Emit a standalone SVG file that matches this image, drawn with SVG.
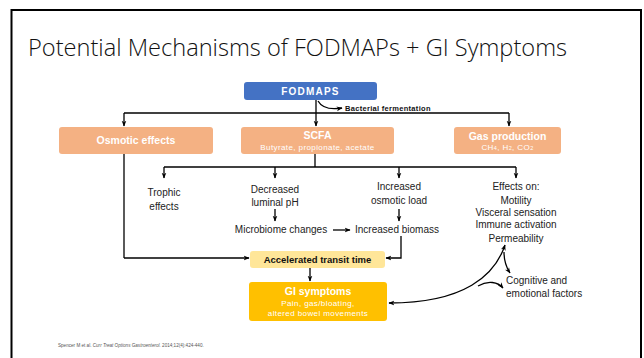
<svg xmlns="http://www.w3.org/2000/svg" width="644" height="358" viewBox="0 0 644 358">
<defs>
<marker id="ah" viewBox="0 0 10 10" refX="9" refY="5" markerWidth="6" markerHeight="6" orient="auto-start-reverse" markerUnits="userSpaceOnUse">
<path d="M0,1 L10,5 L0,9 L3,5 z" fill="#000"/>
</marker>
</defs>
<style>
.ln{fill:none;stroke:#000;stroke-width:1.3}
.arr{fill:none;stroke:#000;stroke-width:1.3;marker-end:url(#ah)}
.bx{font-family:"Liberation Sans",Arial,sans-serif;font-weight:bold;fill:#fff;text-anchor:middle}
.sub{font-family:"Liberation Sans",Arial,sans-serif;fill:#fff;text-anchor:middle;font-size:8px;letter-spacing:0.4px}
.t{font-family:"Liberation Sans",Arial,sans-serif;font-size:10px;fill:#222;text-anchor:middle}
.tl{font-family:"Liberation Sans",Arial,sans-serif;font-size:10px;fill:#222;text-anchor:start}
</style>
<rect width="644" height="358" fill="#fff"/>
<path d="M11.5 358 V10 H641 V358" fill="none" stroke="#000" stroke-width="2"/>
<text x="28" y="56" font-family="'Open Sans',sans-serif" font-weight="300" font-size="24" fill="#111" textLength="539" lengthAdjust="spacingAndGlyphs">Potential Mechanisms of FODMAPs + GI Symptoms</text>

<g id="connectors">
<path class="ln" d="M316 100 V113"/>
<path class="arr" d="M316 113 V126"/>
<path class="ln" d="M124 113 H509"/>
<path class="arr" d="M124 113 V126"/>
<path class="arr" d="M509 113 V126"/>
<path class="arr" d="M318 101 C322 108 330 110 342 108" stroke-width="1"/>
<path class="ln" d="M315 154 V167"/>
<path class="ln" d="M164 167 H516"/>
<path class="arr" d="M164 167 V178"/>
<path class="arr" d="M275 167 V178"/>
<path class="arr" d="M399 167 V178"/>
<path class="arr" d="M516 167 V178"/>
<path class="arr" d="M275 209 V221"/>
<path class="arr" d="M399 209 V221"/>
<path class="arr" d="M333 230 H350"/>
<path class="ln" d="M124 154 V258"/>
<path class="arr" d="M124 258 H249"/>
<path class="arr" d="M401 236 V258 H386"/>
<path class="arr" d="M310 268 V281"/>
<path class="arr" d="M505 245 C495 275 465 303 389 303" style="marker-start:url(#ah)"/>
<path class="arr" d="M478 286 C488 280 498 282 503 288"/>
<path class="arr" d="M504 252 C504 262 506 267 510 273"/>
</g>

<g id="fodmaps">
<rect x="244" y="82" width="133" height="18" rx="3" fill="#4472C4"/>
<text class="bx" x="310.5" y="95" font-size="10" letter-spacing="1.2">FODMAPS</text>
</g>
<g id="bacterial">
<text x="345" y="111" font-family="'Liberation Sans',Arial,sans-serif" font-weight="bold" font-size="7.5" fill="#111" letter-spacing="0.3">Bacterial fermentation</text>
</g>
<g id="osmotic">
<rect x="59" y="127" width="154" height="27" rx="3" fill="#F4B183"/>
<text class="bx" x="136" y="144" font-size="10.5">Osmotic effects</text>
</g>
<g id="scfa">
<rect x="241" y="127" width="153" height="27" rx="3" fill="#F4B183"/>
<text class="bx" x="317.5" y="139" font-size="10.5">SCFA</text>
<text class="sub" x="317.5" y="150">Butyrate, propionate, acetate</text>
</g>
<g id="gas">
<rect x="454" y="127" width="107" height="27" rx="3" fill="#F4B183"/>
<text class="bx" x="507.5" y="140" font-size="10.5">Gas production</text>
<text class="sub" x="507.5" y="150">CH<tspan font-size="5.5">4</tspan>, H<tspan font-size="5.5">2</tspan>, CO<tspan font-size="5.5">2</tspan></text>
</g>
<g id="trophic">
<text class="t" x="164" y="196">Trophic</text>
<text class="t" x="164" y="210">effects</text>
</g>
<g id="luminal">
<text class="t" x="275" y="193">Decreased</text>
<text class="t" x="275" y="206">luminal pH</text>
</g>
<g id="microbiome">
<text class="t" x="281" y="233">Microbiome changes</text>
</g>
<g id="osmoticload">
<text class="t" x="399" y="190">Increased</text>
<text class="t" x="399" y="204">osmotic load</text>
</g>
<g id="biomass">
<text class="t" x="397" y="233">Increased biomass</text>
</g>
<g id="effects">
<text class="t" x="516" y="190">Effects on:</text>
<text class="t" x="516" y="204">Motility</text>
<text class="t" x="516" y="215.5">Visceral sensation</text>
<text class="t" x="516" y="228">Immune activation</text>
<text class="t" x="516" y="242">Permeability</text>
</g>
<g id="cognitive">
<text class="tl" x="506" y="284">Cognitive and</text>
<text class="tl" x="506" y="297">emotional factors</text>
</g>
<g id="transit">
<rect x="250" y="251" width="135" height="17" rx="3" fill="#FFE699"/>
<text x="317.5" y="263" font-family="'Liberation Sans',Arial,sans-serif" font-weight="bold" font-size="9.5" fill="#111" text-anchor="middle">Accelerated transit time</text>
</g>
<g id="gi">
<rect x="249" y="282" width="138" height="39" rx="3" fill="#FFC000"/>
<text class="bx" x="318" y="295" font-size="10.5">GI symptoms</text>
<text class="sub" x="318" y="305.5">Pain, gas/bloating,</text>
<text class="sub" x="318" y="316">altered bowel movements</text>
</g>
<text x="58" y="347" font-family="'Liberation Sans',Arial,sans-serif" font-size="4.6" fill="#555">Spencer M et al. <tspan font-style="italic">Curr Treat Options Gastroenterol.</tspan> 2014;12(4):424-440.</text>
</svg>
